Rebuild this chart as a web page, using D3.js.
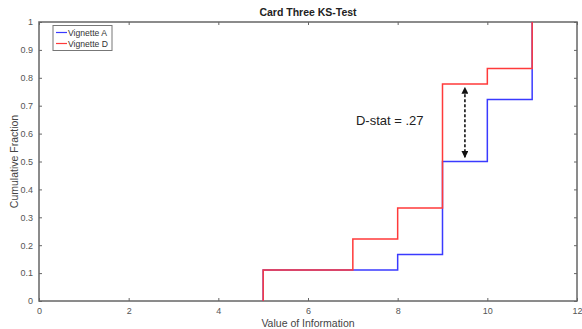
<!DOCTYPE html>
<html>
<head>
<meta charset="utf-8">
<script src="https://cdn.jsdelivr.net/npm/d3@7"></script>
<style>
  body { margin: 0; background: #fff; }
  text { font-family: "Liberation Sans", Arial, sans-serif; }
</style>
</head>
<body>
<svg id="chart" width="582" height="329"></svg>
<script>
// step points of the two empirical CDFs
const stepX = [5, 7, 8, 9, 10, 11];
const vignetteA = [0.111, 0.111, 0.167, 0.5, 0.722, 1];
const vignetteD = [0.111, 0.222, 0.333, 0.778, 0.833, 1];
const xTicks = [0, 2, 4, 6, 8, 10, 12];
const yTicks = [0, 0.1, 0.2, 0.3, 0.4, 0.5, 0.6, 0.7, 0.8, 0.9, 1];
const dstat = { label: "D-stat = .27", x: 9.5, from: 0.515, to: 0.765, textX: 7.07, textY: 0.63 };

const margin = { top: 22, right: 5, bottom: 28, left: 39 };
const width = 582 - margin.left - margin.right;
const height = 329 - margin.top - margin.bottom;

const svg = d3.select("#chart");
const g = svg.append("g").attr("transform", `translate(${margin.left},${margin.top})`);

const x = d3.scaleLinear().domain([0, 12]).range([0, width]);
const y = d3.scaleLinear().domain([0, 1]).range([height, 0]);

const axisColor = "#666";
const tickLen = 3;

// axes, MATLAB-like: ticks inside the box
const fmt = (d) => (d === 0 || d === 1 ? d3.format("d")(d) : d3.format(".1f")(d));
g.append("g").attr("transform", `translate(0,${height})`)
  .call(d3.axisBottom(x).tickValues(xTicks).tickSizeInner(-tickLen).tickSizeOuter(0).tickPadding(7));
g.append("g")
  .call(d3.axisLeft(y).tickValues(yTicks).tickFormat(fmt).tickSizeInner(-tickLen).tickSizeOuter(0).tickPadding(6));
g.append("g")
  .call(d3.axisTop(x).tickValues(xTicks).tickSizeInner(-tickLen).tickSizeOuter(0).tickFormat(""));
g.append("g").attr("transform", `translate(${width},0)`)
  .call(d3.axisRight(y).tickValues(yTicks).tickSizeInner(-tickLen).tickSizeOuter(0).tickFormat(""));

g.selectAll(".domain").attr("stroke", "none");
g.selectAll(".tick line").attr("stroke", axisColor);
g.selectAll(".tick text").attr("fill", "#555").style("font-size", "9px");

// box
g.append("rect").attr("width", width).attr("height", height)
  .attr("fill", "none").attr("stroke", axisColor).attr("stroke-width", 1.5);

// vertical rise at each step, then horizontal to the next step
function drawSeries(vals, color) {
  const pts = [[stepX[0], 0]];
  stepX.forEach((sx, i) => { pts.push([sx, i === 0 ? 0 : vals[i - 1]]); pts.push([sx, vals[i]]); });
  g.append("path").datum(pts)
    .attr("d", d3.line().x((d) => x(d[0])).y((d) => y(d[1])))
    .attr("fill", "none").attr("stroke", color).attr("stroke-width", 1.5);
}
drawSeries(vignetteA, "#3a3aff");
drawSeries(vignetteD, "#ff3a3a");

// D-stat annotation
const defs = svg.append("defs");
defs.append("marker").attr("id", "head").attr("viewBox", "0 0 10 10")
  .attr("refX", 9).attr("refY", 5).attr("markerWidth", 7).attr("markerHeight", 7)
  .attr("markerUnits", "userSpaceOnUse").attr("orient", "auto-start-reverse")
  .append("path").attr("d", "M0,0 L10,5 L0,10 Z").attr("fill", "#111");
g.append("line")
  .attr("x1", x(dstat.x)).attr("x2", x(dstat.x))
  .attr("y1", y(dstat.from)).attr("y2", y(dstat.to))
  .attr("stroke", "#111").attr("stroke-width", 1.6).attr("stroke-dasharray", "3,2")
  .attr("marker-start", "url(#head)").attr("marker-end", "url(#head)");
g.append("text").attr("x", x(dstat.textX)).attr("y", y(dstat.textY))
  .attr("fill", "#222").style("font-size", "13px")
  .text(dstat.label);

// legend
const legend = g.append("g").attr("transform", "translate(14,3.5)");
legend.append("rect").attr("width", 59).attr("height", 25)
  .attr("fill", "#fff").attr("stroke", "#777").attr("stroke-width", 1);
[["Vignette A", "#3a3aff"], ["Vignette D", "#ff3a3a"]].forEach(([name, color], i) => {
  const ly = 7 + i * 11;
  legend.append("line").attr("x1", 3).attr("x2", 14).attr("y1", ly).attr("y2", ly)
    .attr("stroke", color).attr("stroke-width", 1.2);
  legend.append("text").attr("x", 15).attr("y", ly + 3).attr("fill", "#333")
    .style("font-size", "8.6px").text(name);
});

// titles
svg.append("text").attr("x", margin.left + width / 2).attr("y", 16)
  .attr("text-anchor", "middle").attr("fill", "#222")
  .style("font-size", "10.5px").style("font-weight", "bold").text("Card Three KS-Test");
svg.append("text").attr("x", margin.left + width / 2).attr("y", 326.5)
  .attr("text-anchor", "middle").attr("fill", "#444")
  .style("font-size", "10.5px").text("Value of Information");
svg.append("text").attr("transform", `translate(18,${margin.top + height / 2}) rotate(-90)`)
  .attr("text-anchor", "middle").attr("fill", "#444")
  .style("font-size", "10.5px").text("Cumulative Fraction");
</script>
</body>
</html>
